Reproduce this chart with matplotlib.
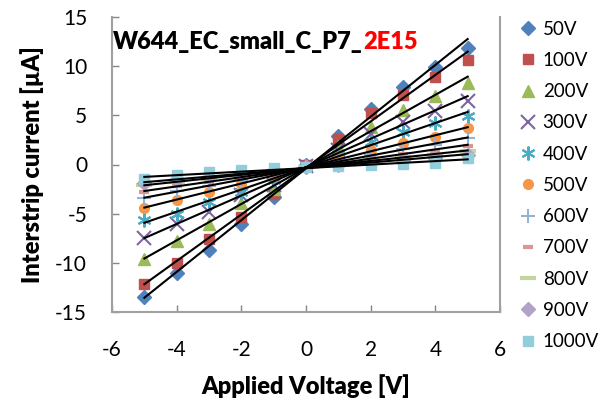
import numpy as np
import matplotlib.pyplot as plt

# input data
voltage = np.array([-5, -4, -3, -2, -1, 0, 1, 2, 3, 4, 5])
labels = ['50V', '100V', '200V', '300V', '400V', '500V', '600V', '700V', '800V', '900V', '1000V']
i_50 = [-13.45, -11.05, -8.7, -6.0, -3.3, 0.0, 2.9, 5.6, 7.9, 9.95, 11.8]
i_100 = [-12.2, -10.0, -7.6, -5.3, -3.0, -0.1, 2.6, 5.2, 7.05, 8.9, 10.6]
i_200 = [-9.65, -7.8, -6.0, -3.95, -2.5, -0.1, 1.9, 3.85, 5.5, 7.0, 8.3]
i_300 = [-7.5, -6.0, -4.8, -3.1, -2.1, -0.2, 1.45, 3.1, 4.3, 5.4, 6.5]
i_400 = [-5.65, -5.0, -3.8, -2.8, -1.6, -0.2, 1.1, 2.3, 3.3, 4.2, 4.95]
i_500 = [-4.4, -3.6, -2.8, -1.95, -1.2, -0.25, 0.75, 1.5, 2.2, 2.8, 3.7]
i_600 = [-3.45, -2.7, -2.2, -1.6, -0.95, -0.3, 0.5, 1.0, 1.6, 2.0, 2.65]
i_700 = [-2.8, -2.2, -1.8, -1.3, -0.8, -0.3, 0.3, 0.7, 1.1, 1.4, 1.9]
i_800 = [-2.1, -1.75, -1.5, -1.1, -0.7, -0.3, 0.15, 0.45, 0.75, 1.0, 1.35]
i_900 = [-1.9, -1.5, -1.3, -0.9, -0.6, -0.3, 0.0, 0.25, 0.5, 0.7, 0.95]
i_1000 = [-1.5, -1.1, -0.8, -0.6, -0.35, -0.3, -0.2, -0.1, 0.05, 0.2, 0.65]
currents = [i_50, i_100, i_200, i_300, i_400, i_500, i_600, i_700, i_800, i_900, i_1000]

colors = ['#4F81BD', '#C0504D', '#9BBB59', '#8064A2', '#4BACC6', '#F79646',
          '#95B3D7', '#D99694', '#C3D69B', '#B3A2C7', '#92CDDC']
markers = ['D', 's', '^', 'x', (6, 2, 0), 'o', '+', '_', '_', 'D', 's']
msizes = [7, 7, 9, 10, 10, 7, 10, 7, 12, 7, 7]
medges = [1, 1, 1, 1.5, 1.5, 1, 1.5, 3, 3, 1, 1]

plt.rcParams['font.family'] = ['Lato', 'DejaVu Sans']
plt.rcParams['axes.unicode_minus'] = False
fig = plt.figure(figsize=(6.01, 4.0), dpi=100)
ax = fig.add_axes([0.1864, 0.22, 0.6456, 0.7375])

for k in range(len(labels)):
    y = np.array(currents[k])
    ax.plot(voltage, y, linestyle='none', marker=markers[k], ms=msizes[k],
            mfc=colors[k], mec=colors[k], mew=medges[k], label=labels[k], zorder=2)
for k in range(len(labels)):
    y = np.array(currents[k])
    coeff = np.polyfit(voltage, y, 1)
    xf = np.array([voltage.min(), voltage.max()])
    ax.plot(xf, coeff[0]*xf + coeff[1], '-', color='black', lw=1.5, zorder=3)

ax.set_xlim(-6, 6)
ax.set_ylim(-15, 15)
ax.set_xticks(np.arange(-6, 7, 2))
ax.set_yticks(np.arange(-15, 16, 5))
ax.tick_params(direction='in', length=5, width=1, color='#868686', labelsize=15)
ax.tick_params(axis='x', pad=20)
ax.tick_params(axis='y', pad=18)
for s in ['left', 'bottom', 'right']:
    ax.spines[s].set_color('#A0A0A0')
    ax.spines[s].set_linewidth(1.5)
ax.spines['top'].set_visible(False)
ax.set_xlabel('Applied Voltage [V]', fontsize=17, fontweight='heavy', labelpad=10)
ax.set_ylabel('Interstrip current [µA]', fontsize=17, fontweight='heavy', labelpad=8)

t1 = ax.text(0.003, 0.915, 'W644_EC_small_C_P7_', transform=ax.transAxes,
             fontsize=17, fontweight='heavy', color='black', va='center', ha='left')
fig.canvas.draw()
bb = t1.get_window_extent()
x_end = ax.transAxes.inverted().transform((bb.x1, bb.y0))[0]
ax.text(x_end, 0.915, '2E15', transform=ax.transAxes,
        fontsize=17, fontweight='heavy', color='red', va='center', ha='left')

fig.legend(loc='upper left', bbox_to_anchor=(0.853, 0.967), frameon=False,
           fontsize=13.5, labelspacing=0.76, handlelength=0.8, handletextpad=0.4,
           borderaxespad=0, numpoints=1)

fig.savefig('out.png', dpi=100)
